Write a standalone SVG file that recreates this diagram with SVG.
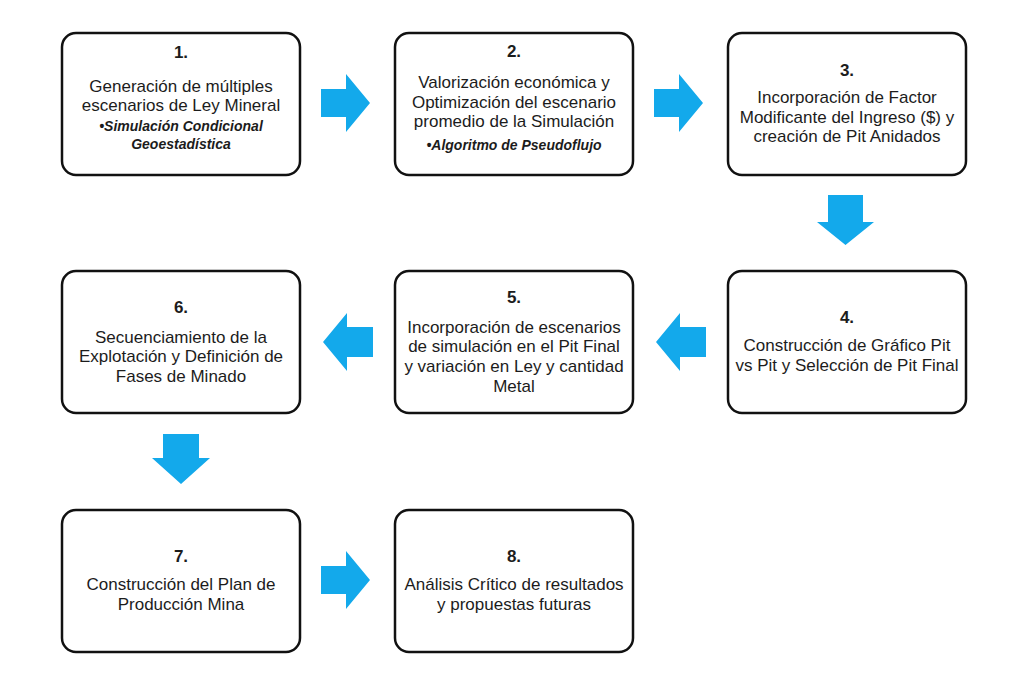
<svg xmlns="http://www.w3.org/2000/svg" width="1024" height="696" viewBox="0 0 1024 696">
<style>
.box{fill:#fff;stroke:#111;stroke-width:2.5}
.arr{fill:#13A9EB}
text{font-family:"Liberation Sans",Arial,sans-serif;fill:#1c1c1c;text-anchor:middle}
.t{font-size:17px}
.n{font-size:17px;font-weight:bold}
.i{font-size:14px;font-weight:bold;font-style:italic}
</style>
<rect width="1024" height="696" fill="#fff"/>
<g id="connectors">
<polygon class="arr" points="321,89 346,89 346,74 370,103 346,132 346,117 321,117"/>
<polygon class="arr" points="654,89 679,89 679,74 703,103 679,132 679,117 654,117"/>
<polygon class="arr" points="828,195 863,195 863,222 874,222 845.5,245 817,222 828,222"/>
<polygon class="arr" points="706,327 680,327 680,313 656,342 680,371 680,357 706,357"/>
<polygon class="arr" points="373,327 347,327 347,313 323,342 347,371 347,357 373,357"/>
<polygon class="arr" points="163,434 199,434 199,458 210,458 181,484 152,458 163,458"/>
<polygon class="arr" points="321,566 346,566 346,551 370,580 346,609 346,594 321,594"/>
</g>
<g id="node1">
<rect class="box" x="62" y="33" width="238" height="142" rx="14"/>
<text class="n" x="181" y="58">1.</text>
<text class="t" x="181" y="92">Generación de múltiples</text>
<text class="t" x="181" y="111">escenarios de Ley Mineral</text>
<text class="i" x="181" y="131">•Simulación Condicional</text>
<text class="i" x="181" y="149">Geoestadística</text>
</g>
<g id="node2">
<rect class="box" x="395" y="33" width="238" height="142" rx="14"/>
<text class="n" x="514" y="57">2.</text>
<text class="t" x="514" y="88">Valorización económica y</text>
<text class="t" x="514" y="108">Optimización del escenario</text>
<text class="t" x="514" y="127">promedio de la Simulación</text>
<text class="i" x="514" y="150">•Algoritmo de Pseudoflujo</text>
</g>
<g id="node3">
<rect class="box" x="728" y="33" width="238" height="142" rx="14"/>
<text class="n" x="847" y="76">3.</text>
<text class="t" x="847" y="103">Incorporación de Factor</text>
<text class="t" x="847" y="123">Modificante del Ingreso ($) y</text>
<text class="t" x="847" y="142">creación de Pit Anidados</text>
</g>
<g id="node4">
<rect class="box" x="728" y="271" width="238" height="142" rx="14"/>
<text class="n" x="847" y="323">4.</text>
<text class="t" x="847" y="351">Construcción de Gráfico Pit</text>
<text class="t" x="847" y="371">vs Pit y Selección de Pit Final</text>
</g>
<g id="node5">
<rect class="box" x="395" y="271" width="238" height="142" rx="14"/>
<text class="n" x="514" y="303">5.</text>
<text class="t" x="514" y="333">Incorporación de escenarios</text>
<text class="t" x="514" y="352">de simulación en el Pit Final</text>
<text class="t" x="514" y="372">y variación en Ley y cantidad</text>
<text class="t" x="514" y="392">Metal</text>
</g>
<g id="node6">
<rect class="box" x="62" y="271" width="238" height="142" rx="14"/>
<text class="n" x="181" y="313">6.</text>
<text class="t" x="181" y="343">Secuenciamiento de la</text>
<text class="t" x="181" y="362">Explotación y Definición de</text>
<text class="t" x="181" y="382">Fases de Minado</text>
</g>
<g id="node7">
<rect class="box" x="62" y="510" width="238" height="142" rx="14"/>
<text class="n" x="181" y="562">7.</text>
<text class="t" x="181" y="590">Construcción del Plan de</text>
<text class="t" x="181" y="610">Producción Mina</text>
</g>
<g id="node8">
<rect class="box" x="395" y="510" width="238" height="142" rx="14"/>
<text class="n" x="514" y="562">8.</text>
<text class="t" x="514" y="590">Análisis Crítico de resultados</text>
<text class="t" x="514" y="610">y propuestas futuras</text>
</g>
</svg>
